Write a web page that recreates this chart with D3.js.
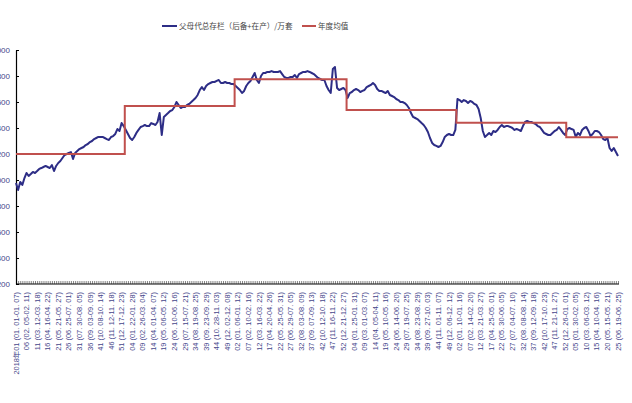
<!DOCTYPE html>
<html><head><meta charset="utf-8">
<script src="https://cdn.jsdelivr.net/npm/d3@7"></script>
<style>body{margin:0;background:#fff;} svg{display:block;}</style>
</head><body>
<svg id="c" width="632" height="403"></svg>
<script>
const seriesName = "父母代总存栏（后备+在产）/万套";
const avgName = "年度均值";
const years = [2018, 2019, 2020, 2021, 2022, 2023];
const weeksPerYear = [52, 52, 53, 52, 52, 25];
const stock2018 = [2977,2923,2985,2962,3015,3054,3031,3046,3062,3054,3069,3085,3092,3100,3108,3100,3092,3115,3069,3108,3131,3146,3169,3192,3200,3208,3215,3162,3208,3223,3238,3246,3254,3269,3277,3292,3300,3315,3323,3331,3331,3331,3323,3315,3308,3331,3338,3354,3392,3377,3438,3415];
const stock2019 = [3385,3354,3323,3308,3331,3362,3385,3408,3415,3423,3415,3415,3438,3431,3423,3446,3515,3346,3485,3500,3515,3531,3538,3562,3600,3577,3554,3562,3562,3577,3585,3600,3615,3631,3654,3692,3715,3692,3723,3738,3746,3754,3754,3762,3769,3746,3746,3754,3746,3746,3738,3738];
const stock2020 = [3723,3708,3692,3669,3685,3723,3746,3762,3792,3823,3769,3746,3800,3823,3823,3831,3831,3838,3831,3831,3831,3838,3815,3792,3785,3785,3792,3792,3808,3785,3815,3823,3831,3831,3838,3831,3823,3815,3800,3785,3777,3769,3769,3723,3692,3669,3854,3869,3708,3692,3700,3708,3692];
const stock2021 = [3631,3669,3677,3692,3700,3692,3677,3685,3692,3715,3723,3731,3746,3731,3700,3685,3685,3677,3669,3685,3654,3646,3638,3623,3615,3600,3600,3592,3577,3554,3515,3485,3477,3469,3454,3438,3423,3400,3369,3323,3285,3269,3262,3254,3262,3292,3331,3346,3354,3346,3346,3385];
const stock2022 = [3623,3615,3600,3615,3608,3592,3608,3600,3585,3577,3546,3477,3377,3331,3346,3362,3346,3377,3369,3385,3408,3423,3408,3415,3415,3408,3400,3385,3392,3385,3377,3415,3446,3454,3446,3446,3438,3431,3415,3408,3385,3362,3354,3346,3346,3362,3377,3385,3408,3385,3362,3346];
const stock2023 = [3392,3400,3392,3385,3331,3362,3346,3385,3400,3408,3377,3338,3354,3377,3377,3369,3346,3315,3308,3323,3246,3223,3246,3215,3185];
const yearlyAvg = [3200, 3569, 3775, 3538, 3441, 3328];
const yTicks = [2200, 2400, 2600, 2800, 3000, 3200, 3400, 3600, 3800, 4000];
const xTickLabels = [
 "2018年01 (01. 01-01. 07)","06 (02. 05-02. 11)","11 (03. 12-03. 18)","16 (04. 16-04. 22)","21 (05. 21-05. 27)","26 (06. 25-07. 01)","31 (07. 30-08. 05)","36 (09. 03-09. 09)","41 (10. 08-10. 14)","46 (11. 12-11. 18)","51 (12. 17-12. 23)",
 "04 (01. 22-01. 28)","09 (02. 26-03. 04)","14 (04. 01-04. 07)","19 (05. 06-05. 12)","24 (06. 10-06. 16)","29 (07. 15-07. 21)","34 (08. 19-08. 25)","39 (09. 23-09. 29)","44 (10. 28-11. 03)","49 (12. 02-12. 08)",
 "02 (01. 06-01. 12)","07 (02. 10-02. 16)","12 (03. 16-03. 22)","17 (04. 20-04. 26)","22 (05. 25-05. 31)","27 (06. 29-07. 05)","32 (08. 03-08. 09)","37 (09. 07-09. 13)","42 (10. 12-10. 18)","47 (11. 16-11. 22)","52 (12. 21-12. 27)",
 "04 (01. 25-01. 31)","09 (03. 01-03. 07)","14 (04. 05-04. 11)","19 (05. 10-05. 16)","24 (06. 14-06. 20)","29 (07. 19-07. 25)","34 (08. 23-08. 29)","39 (09. 27-10. 03)","44 (11. 01-11. 07)","49 (12. 06-12. 12)",
 "02 (01. 10-01. 16)","07 (02. 14-02. 20)","12 (03. 21-03. 27)","17 (04. 25-05. 01)","22 (05. 30-06. 05)","27 (07. 04-07. 10)","32 (08. 08-08. 14)","37 (09. 12-09. 18)","42 (10. 17-10. 23)","47 (11. 21-11. 27)","52 (12. 26-01. 01)",
 "05 (01. 30-02. 05)","10 (03. 06-03. 12)","15 (04. 10-04. 16)","20 (05. 15-05. 21)","25 (06. 19-06. 25)"
];

const stock = [].concat(stock2018, stock2019, stock2020, stock2021, stock2022, stock2023);
const n = stock.length;
const idx = d3.range(n);

const svg = d3.select("#c");
const blue = "#2d2d86", red = "#c0504d", lab = "#45458a";
const x = d3.scalePoint().domain(idx).range([16, 618]);
const y = d3.scaleLinear().domain([2200, 4000]).range([284, 50]);
const step = x.step();

// x axis
const xAxis = d3.axisBottom(x).tickValues(idx).tickSize(-3).tickSizeOuter(0).tickFormat("");
const gx = svg.append("g").attr("transform", "translate(0,284)").call(xAxis);
gx.select(".domain").attr("stroke", "#000").attr("stroke-width", 1.2)
  .attr("d", `M${x(0)},0H${x(n-1)+1}`);
gx.selectAll(".tick line").attr("stroke", "#333").attr("stroke-width", 0.6);

// x labels
const labelIdx = idx.filter(i => i % 5 === 0);
svg.append("g").selectAll("text").data(labelIdx).join("text")
  .attr("transform", i => `translate(${x(i)},292) rotate(-90)`)
  .attr("text-anchor", "end").attr("dy", "0.35em")
  .attr("font-family", "'Liberation Sans', Arial, 'Noto Sans CJK SC', sans-serif")
  .attr("font-size", 7.4).attr("fill", lab)
  .text((d, k) => xTickLabels[k]);

// y axis
const yAxis = d3.axisLeft(y).tickValues(yTicks).tickSize(-3).tickSizeOuter(0).tickPadding(6).tickFormat(d3.format(","));
const gy = svg.append("g").attr("transform", "translate(16,0)").call(yAxis);
gy.select(".domain").attr("stroke", "#000").attr("stroke-width", 1.2);
gy.selectAll(".tick line").attr("stroke", "#000");
gy.selectAll(".tick text").attr("font-family", "'Liberation Sans', Arial, sans-serif").attr("font-size", 8).attr("fill", lab);

// blue line
svg.append("path").datum(idx)
  .attr("fill", "none").attr("stroke", blue).attr("stroke-width", 2).attr("stroke-linejoin", "round")
  .attr("d", d3.line().x(i => x(i)).y(i => y(stock[i])));

// yearly average step
const stepPts = [];
let s = 0;
weeksPerYear.forEach((w, k) => {
  const e = s + w - 1;
  const x0 = k === 0 ? x(s) : x(s) - step / 2;
  const x1 = k === weeksPerYear.length - 1 ? x(e) : x(e) + step / 2;
  stepPts.push([x0, y(yearlyAvg[k])], [x1, y(yearlyAvg[k])]);
  s = e + 1;
});
svg.append("path").datum(stepPts)
  .attr("fill", "none").attr("stroke", red).attr("stroke-width", 2)
  .attr("d", d3.line());

// legend
const lg = svg.append("g").attr("font-family", "'Noto Sans CJK SC', sans-serif").attr("font-size", 7.6).attr("fill", "#444");
lg.append("line").attr("x1", 162).attr("x2", 177).attr("y1", 26).attr("y2", 26).attr("stroke", blue).attr("stroke-width", 2);
lg.append("text").attr("x", 179).attr("y", 26).attr("dy", "0.35em").text(seriesName);
lg.append("line").attr("x1", 302).attr("x2", 316).attr("y1", 26).attr("y2", 26).attr("stroke", red).attr("stroke-width", 2);
lg.append("text").attr("x", 318).attr("y", 26).attr("dy", "0.35em").text(avgName);
</script>
</body></html>
